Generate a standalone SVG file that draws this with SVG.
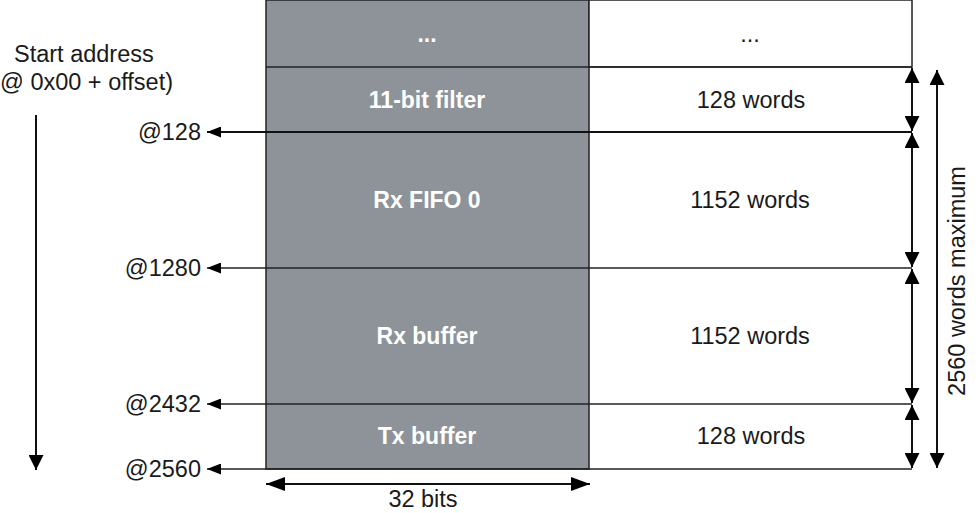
<svg xmlns="http://www.w3.org/2000/svg" width="976" height="513" viewBox="0 0 976 513">
<style>
  .lbl { font-family: "Liberation Sans", Arial, sans-serif; font-size: 23.5px; fill: #1a1a1a; }
  .blk { font-family: "Liberation Sans", Arial, sans-serif; font-size: 23px; font-weight: bold; fill: #ffffff; text-anchor: middle; }
  .wrd { text-anchor: middle; }
  .ln { stroke: #111; stroke-width: 2; fill: none; }
  .thin { stroke: #222; stroke-width: 1.5; fill: none; }
</style>
<defs>
  <marker id="ah" markerUnits="userSpaceOnUse" markerWidth="16" markerHeight="15" refX="15" refY="7.5" orient="auto-start-reverse">
    <path d="M0,0 L15,7.5 L0,15 Z" fill="#000"/>
  </marker>
  <marker id="as" markerUnits="userSpaceOnUse" markerWidth="15" markerHeight="11" refX="14" refY="5.5" orient="auto-start-reverse">
    <path d="M0,0 L14,5.5 L0,11 Z" fill="#000"/>
  </marker>
  <marker id="ab" markerUnits="userSpaceOnUse" markerWidth="20" markerHeight="14" refX="19" refY="7" orient="auto-start-reverse">
    <path d="M0,0 L19,7 L0,14 Z" fill="#000"/>
  </marker>
</defs>
<rect width="976" height="513" fill="#ffffff"/>

<g id="column-gray">
  <rect x="266" y="0" width="323" height="469" fill="#8d9399" stroke="#222" stroke-width="1.5"/>
</g>
<g id="column-white">
  <rect x="589" y="0" width="323" height="67" fill="#ffffff" stroke="#222" stroke-width="1.5"/>
</g>

<g id="row-top">
  <text class="blk" x="427" y="42">...</text>
  <text class="lbl wrd" x="750" y="42">...</text>
</g>
<g id="row-filter">
  <text class="blk" x="427" y="108">11-bit filter</text>
  <text class="lbl wrd" x="751" y="108">128 words</text>
</g>
<g id="row-rxfifo">
  <text class="blk" x="427" y="208">Rx FIFO 0</text>
  <text class="lbl wrd" x="750" y="208">1152 words</text>
</g>
<g id="row-rxbuffer">
  <text class="blk" x="427" y="344">Rx buffer</text>
  <text class="lbl wrd" x="750" y="344">1152 words</text>
</g>
<g id="row-txbuffer">
  <text class="blk" x="427" y="444">Tx buffer</text>
  <text class="lbl wrd" x="751" y="444">128 words</text>
</g>

<g id="start-label">
  <text class="lbl" x="14" y="62">Start address</text>
  <text class="lbl" x="0" y="90">@ 0x00 + offset)</text>
</g>
<g id="addr-labels">
  <text class="lbl" x="201" y="140" text-anchor="end">@128</text>
  <text class="lbl" x="201" y="276" text-anchor="end">@1280</text>
  <text class="lbl" x="201" y="412" text-anchor="end">@2432</text>
  <text class="lbl" x="201" y="477" text-anchor="end">@2560</text>
</g>
<g id="size-labels">
  <text class="lbl" x="423" y="507" text-anchor="middle">32 bits</text>
  <text class="lbl" transform="translate(965,281) rotate(-90)" text-anchor="middle">2560 words maximum</text>
</g>

<g id="connectors">
  <line class="thin" x1="912" y1="67" x2="266" y2="67"/>
  <line class="ln" x1="912" y1="132" x2="207" y2="132" marker-end="url(#as)"/>
  <line class="thin" x1="912" y1="268" x2="207" y2="268" marker-end="url(#as)"/>
  <line class="thin" x1="912" y1="404" x2="207" y2="404" marker-end="url(#as)"/>
  <line class="thin" x1="912" y1="469" x2="207" y2="469" marker-end="url(#as)"/>

  <line class="ln" x1="912" y1="68" x2="912" y2="131" marker-start="url(#ah)" marker-end="url(#ah)"/>
  <line class="ln" x1="912" y1="133" x2="912" y2="267" marker-start="url(#ah)" marker-end="url(#ah)"/>
  <line class="ln" x1="912" y1="269" x2="912" y2="403" marker-start="url(#ah)" marker-end="url(#ah)"/>
  <line class="ln" x1="912" y1="405" x2="912" y2="468" marker-start="url(#ah)" marker-end="url(#ah)"/>

  <line class="ln" x1="937" y1="70" x2="937" y2="468" marker-start="url(#ah)" marker-end="url(#ah)"/>
  <line class="ln" x1="36" y1="115" x2="36" y2="470" marker-end="url(#ah)"/>
  <line class="ln" x1="266" y1="484" x2="590" y2="484" marker-start="url(#ab)" marker-end="url(#ab)"/>
</g>
</svg>
